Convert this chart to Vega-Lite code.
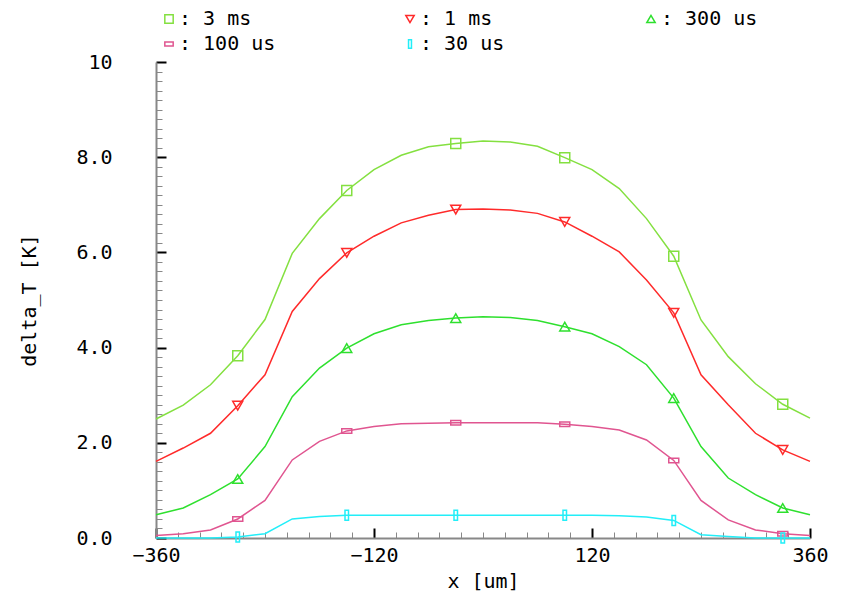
{
  "$schema": "https://vega.github.io/schema/vega-lite/v6.json",
  "width": 654,
  "height": 476,
  "autosize": {"type": "none"},
  "padding": {"left": 156, "top": 62, "right": 31, "bottom": 64},
  "background": "white",
  "config": {"view": {"stroke": null}, "font": "DejaVu Sans Mono"},
  "data": {"values": [
    {"s":"3 ms","x":-360,"y":2.50},{"s":"3 ms","x":-330,"y":2.79},{"s":"3 ms","x":-300,"y":3.22},{"s":"3 ms","x":-270,"y":3.83},{"s":"3 ms","x":-240,"y":4.59},{"s":"3 ms","x":-210,"y":5.98},{"s":"3 ms","x":-180,"y":6.71},{"s":"3 ms","x":-150,"y":7.30},{"s":"3 ms","x":-120,"y":7.74},{"s":"3 ms","x":-90,"y":8.04},{"s":"3 ms","x":-60,"y":8.22},{"s":"3 ms","x":-30,"y":8.29},{"s":"3 ms","x":0,"y":8.34},{"s":"3 ms","x":30,"y":8.32},{"s":"3 ms","x":60,"y":8.23},{"s":"3 ms","x":90,"y":7.99},{"s":"3 ms","x":120,"y":7.74},{"s":"3 ms","x":150,"y":7.34},{"s":"3 ms","x":180,"y":6.71},{"s":"3 ms","x":210,"y":5.92},{"s":"3 ms","x":240,"y":4.58},{"s":"3 ms","x":270,"y":3.81},{"s":"3 ms","x":300,"y":3.24},{"s":"3 ms","x":330,"y":2.81},{"s":"3 ms","x":360,"y":2.52},
    {"s":"1 ms","x":-360,"y":1.61},{"s":"1 ms","x":-330,"y":1.89},{"s":"1 ms","x":-300,"y":2.20},{"s":"1 ms","x":-270,"y":2.78},{"s":"1 ms","x":-240,"y":3.43},{"s":"1 ms","x":-210,"y":4.76},{"s":"1 ms","x":-180,"y":5.45},{"s":"1 ms","x":-150,"y":5.99},{"s":"1 ms","x":-120,"y":6.34},{"s":"1 ms","x":-90,"y":6.62},{"s":"1 ms","x":-60,"y":6.78},{"s":"1 ms","x":-30,"y":6.90},{"s":"1 ms","x":0,"y":6.91},{"s":"1 ms","x":30,"y":6.89},{"s":"1 ms","x":60,"y":6.82},{"s":"1 ms","x":90,"y":6.64},{"s":"1 ms","x":120,"y":6.34},{"s":"1 ms","x":150,"y":6.01},{"s":"1 ms","x":180,"y":5.42},{"s":"1 ms","x":210,"y":4.73},{"s":"1 ms","x":240,"y":3.43},{"s":"1 ms","x":270,"y":2.80},{"s":"1 ms","x":300,"y":2.20},{"s":"1 ms","x":330,"y":1.85},{"s":"1 ms","x":360,"y":1.61},
    {"s":"300 us","x":-360,"y":0.49},{"s":"300 us","x":-330,"y":0.63},{"s":"300 us","x":-300,"y":0.91},{"s":"300 us","x":-270,"y":1.24},{"s":"300 us","x":-240,"y":1.92},{"s":"300 us","x":-210,"y":2.97},{"s":"300 us","x":-180,"y":3.57},{"s":"300 us","x":-150,"y":3.99},{"s":"300 us","x":-120,"y":4.29},{"s":"300 us","x":-90,"y":4.48},{"s":"300 us","x":-60,"y":4.57},{"s":"300 us","x":-30,"y":4.62},{"s":"300 us","x":0,"y":4.65},{"s":"300 us","x":30,"y":4.63},{"s":"300 us","x":60,"y":4.57},{"s":"300 us","x":90,"y":4.44},{"s":"300 us","x":120,"y":4.29},{"s":"300 us","x":150,"y":4.02},{"s":"300 us","x":180,"y":3.64},{"s":"300 us","x":210,"y":2.94},{"s":"300 us","x":240,"y":1.92},{"s":"300 us","x":270,"y":1.26},{"s":"300 us","x":300,"y":0.91},{"s":"300 us","x":330,"y":0.63},{"s":"300 us","x":360,"y":0.49},
    {"s":"100 us","x":-360,"y":0.05},{"s":"100 us","x":-330,"y":0.09},{"s":"100 us","x":-300,"y":0.17},{"s":"100 us","x":-270,"y":0.40},{"s":"100 us","x":-240,"y":0.79},{"s":"100 us","x":-210,"y":1.64},{"s":"100 us","x":-180,"y":2.03},{"s":"100 us","x":-150,"y":2.25},{"s":"100 us","x":-120,"y":2.34},{"s":"100 us","x":-90,"y":2.40},{"s":"100 us","x":-60,"y":2.41},{"s":"100 us","x":-30,"y":2.42},{"s":"100 us","x":0,"y":2.42},{"s":"100 us","x":30,"y":2.42},{"s":"100 us","x":60,"y":2.42},{"s":"100 us","x":90,"y":2.39},{"s":"100 us","x":120,"y":2.34},{"s":"100 us","x":150,"y":2.27},{"s":"100 us","x":180,"y":2.06},{"s":"100 us","x":210,"y":1.63},{"s":"100 us","x":240,"y":0.79},{"s":"100 us","x":270,"y":0.38},{"s":"100 us","x":300,"y":0.17},{"s":"100 us","x":330,"y":0.09},{"s":"100 us","x":360,"y":0.05},
    {"s":"30 us","x":-360,"y":0.0},{"s":"30 us","x":-330,"y":0.0},{"s":"30 us","x":-300,"y":0.0},{"s":"30 us","x":-270,"y":0.02},{"s":"30 us","x":-240,"y":0.09},{"s":"30 us","x":-210,"y":0.40},{"s":"30 us","x":-180,"y":0.45},{"s":"30 us","x":-150,"y":0.48},{"s":"30 us","x":-120,"y":0.48},{"s":"30 us","x":-90,"y":0.48},{"s":"30 us","x":-60,"y":0.48},{"s":"30 us","x":-30,"y":0.48},{"s":"30 us","x":0,"y":0.48},{"s":"30 us","x":30,"y":0.48},{"s":"30 us","x":60,"y":0.48},{"s":"30 us","x":90,"y":0.48},{"s":"30 us","x":120,"y":0.48},{"s":"30 us","x":150,"y":0.47},{"s":"30 us","x":180,"y":0.44},{"s":"30 us","x":210,"y":0.37},{"s":"30 us","x":240,"y":0.07},{"s":"30 us","x":270,"y":0.03},{"s":"30 us","x":300,"y":0.0},{"s":"30 us","x":330,"y":0.0},{"s":"30 us","x":360,"y":0.0}
  ]},
  "layer": [
    {
      "mark": {"type": "line", "strokeWidth": 1.5},
      "encoding": {
        "x": {"field": "x", "type": "quantitative",
          "scale": {"domain": [-360, 360], "nice": false, "zero": false},
          "axis": {"orient": "bottom", "values": [-360, -120, 120, 360], "grid": false,
            "tickSize": -10, "tickColor": "black", "tickWidth": 2,
            "domainColor": "#888888", "domainWidth": 2,
            "labelPadding": 17, "labelFlush": false, "labelFontSize": 20, "labelColor": "black", "labelFont": "DejaVu Sans Mono",
            "title": "x [um]", "titleFontSize": 20, "titleFontWeight": "normal", "titleColor": "black", "titleFont": "DejaVu Sans Mono", "titlePadding": 6}},
        "y": {"field": "y", "type": "quantitative",
          "scale": {"domain": [0, 10], "nice": false},
          "axis": {"orient": "left", "values": [0, 2, 4, 6, 8, 10], "grid": false,
            "labelExpr": "datum.value == 10 ? '10' : format(datum.value, '.1f')",
            "tickSize": -10, "tickColor": "black", "tickWidth": 2,
            "domainColor": "#888888", "domainWidth": 2,
            "labelPadding": 54, "labelFontSize": 20, "labelColor": "black", "labelFont": "DejaVu Sans Mono",
            "title": "delta_T [K]", "titleFontSize": 20, "titleFontWeight": "normal", "titleColor": "black", "titleFont": "DejaVu Sans Mono", "titlePadding": 36}},
        "stroke": {"field": "s", "type": "nominal",
          "scale": {"domain": ["30 us", "100 us", "300 us", "1 ms", "3 ms"], "range": ["#22eef8", "#e05590", "#2ee02e", "#ff2a2a", "#84e040"]},
          "legend": null}
      }
    },
    {
      "transform": [{"filter": "indexof([-270, -150, -30, 90, 210, 330], datum.x) >= 0"}],
      "mark": {"type": "point", "filled": false, "strokeWidth": 1.5, "size": 100, "opacity": 1},
      "encoding": {
        "x": {"field": "x", "type": "quantitative",
          "axis": {"orient": "bottom", "values": [-336,-312,-288,-264,-240,-216,-192,-168,-144,-96,-72,-48,-24,0,24,48,72,96,144,168,192,216,240,264,288,312,336],
            "grid": false, "labels": false, "domain": false, "title": null,
            "tickSize": -6, "tickColor": "#888888", "tickWidth": 1}},
        "y": {"field": "y", "type": "quantitative",
          "axis": {"orient": "left", "values": [0.2,0.4,0.6,0.8,1,1.2,1.4,1.6,1.8,2.2,2.4,2.6,2.8,3,3.2,3.4,3.6,3.8,4.2,4.4,4.6,4.8,5,5.2,5.4,5.6,5.8,6.2,6.4,6.6,6.8,7,7.2,7.4,7.6,7.8,8.2,8.4,8.6,8.8,9,9.2,9.4,9.6,9.8],
            "grid": false, "labels": false, "domain": false, "title": null,
            "tickSize": -6, "tickColor": "#888888", "tickWidth": 1}},
        "color": {"field": "s", "type": "nominal",
          "scale": {"domain": ["3 ms", "1 ms", "300 us", "100 us", "30 us"], "range": ["#84e040", "#ff2a2a", "#2ee02e", "#e05590", "#22eef8"]},
          "legend": {"orient": "none", "legendX": 3, "legendY": -53, "columns": 3, "direction": "horizontal",
            "gridAlign": "all", "columnPadding": 124, "rowPadding": 5, "title": null,
            "labelExpr": "': ' + datum.label", "labelFontSize": 20, "labelFont": "DejaVu Sans Mono", "labelOffset": 0,
            "symbolSize": 70, "symbolStrokeWidth": 1.5,
            "encode": {"labels": {"update": {"fill": {"scale": "color", "field": "value"}}}}}},
        "shape": {"field": "s", "type": "nominal",
          "scale": {"domain": ["3 ms", "1 ms", "300 us", "100 us", "30 us"], "range": ["square", "triangle-down", "triangle-up", "M-1,-0.45H1V0.45H-1Z", "M-0.35,-1H0.35V1H-0.35Z"]}}
      }
    }
  ],
  "resolve": {"axis": {"x": "independent", "y": "independent"}}
}
